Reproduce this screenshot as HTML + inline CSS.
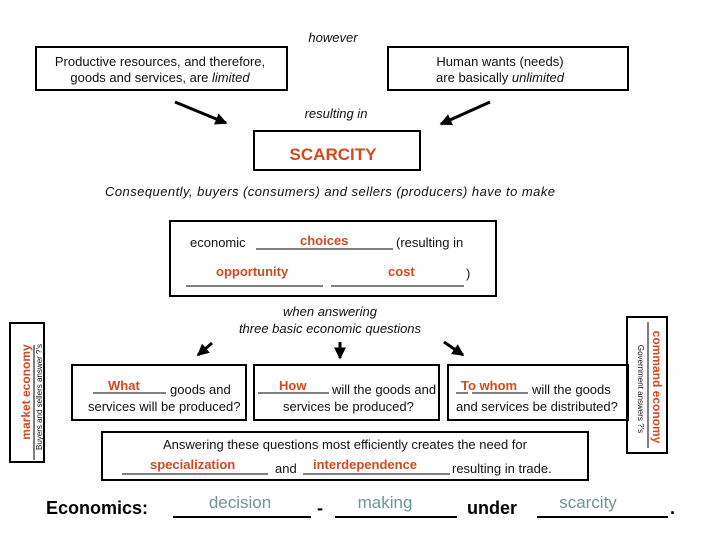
<!DOCTYPE html>
<html><head><meta charset="utf-8"><style>
html,body{margin:0;padding:0;background:#fff;}
svg{display:block;font-family:"Liberation Sans",sans-serif;}
.t{font-size:13px;fill:#111;}
.i{font-style:italic;}
.r{fill:#d2491e;font-weight:bold;}
.g{fill:#6f9494;font-size:17px;}
</style></head><body>
<svg width="720" height="540" viewBox="0 0 720 540" xmlns="http://www.w3.org/2000/svg">
<defs><marker id="a" markerWidth="4" markerHeight="4" refX="3.5" refY="2" orient="auto" markerUnits="strokeWidth"><path d="M0,0 L4,2 L0,4 z" fill="#000"/></marker></defs>
<g fill="none" stroke="#000" stroke-width="2">
<rect x="36" y="47" width="251" height="43"/>
<rect x="388" y="47" width="240" height="43"/>
<rect x="254" y="131" width="166" height="39"/>
<rect x="170" y="221" width="326" height="75"/>
<rect x="10" y="323" width="34" height="139"/>
<rect x="627" y="317" width="40" height="136"/>
<rect x="72" y="365" width="174" height="55"/>
<rect x="254" y="365" width="185" height="55"/>
<rect x="448" y="365" width="180" height="55"/>
<rect x="102" y="432" width="486" height="48"/>
</g>
<g stroke="#000" stroke-width="3" marker-end="url(#a)">
<line x1="175" y1="102" x2="226" y2="123"/>
<line x1="490" y1="102" x2="441" y2="124"/>
<line x1="212" y1="343" x2="198" y2="355"/>
<line x1="340" y1="342" x2="340" y2="358"/>
<line x1="444" y1="342" x2="463" y2="355"/>
</g>
<g class="t" text-anchor="middle">
<text x="333" y="42" class="i">however</text>
<text x="160" y="66">Productive resources, and therefore,</text>
<text x="160" y="82">goods and services, are <tspan class="i">limited</tspan></text>
<text x="500" y="66">Human wants (needs)</text>
<text x="500" y="82">are basically <tspan class="i">unlimited</tspan></text>
<text x="336" y="118" class="i">resulting in</text>
<text x="333" y="160" class="r" style="font-size:17px">SCARCITY</text>
<text x="330" y="196" class="i" textLength="450">Consequently, buyers (consumers) and sellers (producers) have to make</text>
<text x="330" y="316" class="i">when answering</text>
<text x="330" y="333" class="i">three basic economic questions</text>
<text x="345" y="449">Answering these questions most efficiently creates the need for</text>
</g>
<g class="t">
<text x="190" y="247">economic</text>
<text x="396" y="247">(resulting in</text>
<text x="466" y="278">)</text>
<text x="300" y="245" class="r" style="font-size:13px">choices</text>
<text x="216" y="276" class="r">opportunity</text>
<text x="388" y="276" class="r">cost</text>
<text x="170" y="394">goods and</text>
<text x="88" y="411">services will be produced?</text>
<text x="332" y="394">will the goods and</text>
<text x="283" y="411">services be produced?</text>
<text x="532" y="394">will the goods</text>
<text x="456" y="411">and services be distributed?</text>
<text x="108" y="390" class="r">What</text>
<text x="279" y="390" class="r">How</text>
<text x="461" y="390" class="r">To whom</text>
<text x="275" y="473">and</text>
<text x="452" y="473">resulting in trade.</text>
<text x="150" y="469" class="r">specialization</text>
<text x="313" y="469" class="r">interdependence</text>
</g>
<g stroke="#000" stroke-width="1">
<line x1="256" y1="249" x2="393" y2="249"/>
<line x1="186" y1="286" x2="323" y2="286"/>
<line x1="331" y1="286" x2="464" y2="286"/>
<line x1="93" y1="393" x2="166" y2="393"/>
<line x1="258" y1="393" x2="329" y2="393"/>
<line x1="456" y1="393" x2="468" y2="393"/>
<line x1="472" y1="393" x2="528" y2="393"/>
<line x1="122" y1="474" x2="268" y2="474"/>
<line x1="303" y1="474" x2="450" y2="474"/>
<line x1="34" y1="345" x2="34" y2="460"/>
<line x1="648" y1="322" x2="648" y2="448"/>
</g>
<g stroke="#000" stroke-width="2">
<line x1="173" y1="517" x2="311" y2="517"/>
<line x1="335" y1="517" x2="457" y2="517"/>
<line x1="537" y1="517" x2="668" y2="517"/>
</g>
<text x="30" y="392" transform="rotate(-90 30 392)" text-anchor="middle" class="r" style="font-size:12px">market economy</text>
<text x="42" y="397" transform="rotate(-90 42 397)" text-anchor="middle" style="font-size:8px;fill:#111">Buyers and sellers answer ?'s</text>
<text x="653" y="387" transform="rotate(90 653 387)" text-anchor="middle" class="r" style="font-size:12px">command economy</text>
<text x="638" y="389" transform="rotate(90 638 389)" text-anchor="middle" style="font-size:8px;fill:#111">Government answers ?'s</text>
<g style="font-size:18px;font-weight:bold;fill:#000">
<text x="46" y="514">Economics:</text>
<text x="317" y="514">-</text>
<text x="467" y="514">under</text>
<text x="670" y="514">.</text>
</g>
<g class="g" text-anchor="middle">
<text x="240" y="508">decision</text>
<text x="385" y="508">making</text>
<text x="588" y="508">scarcity</text>
</g>
</svg>
</body></html>
